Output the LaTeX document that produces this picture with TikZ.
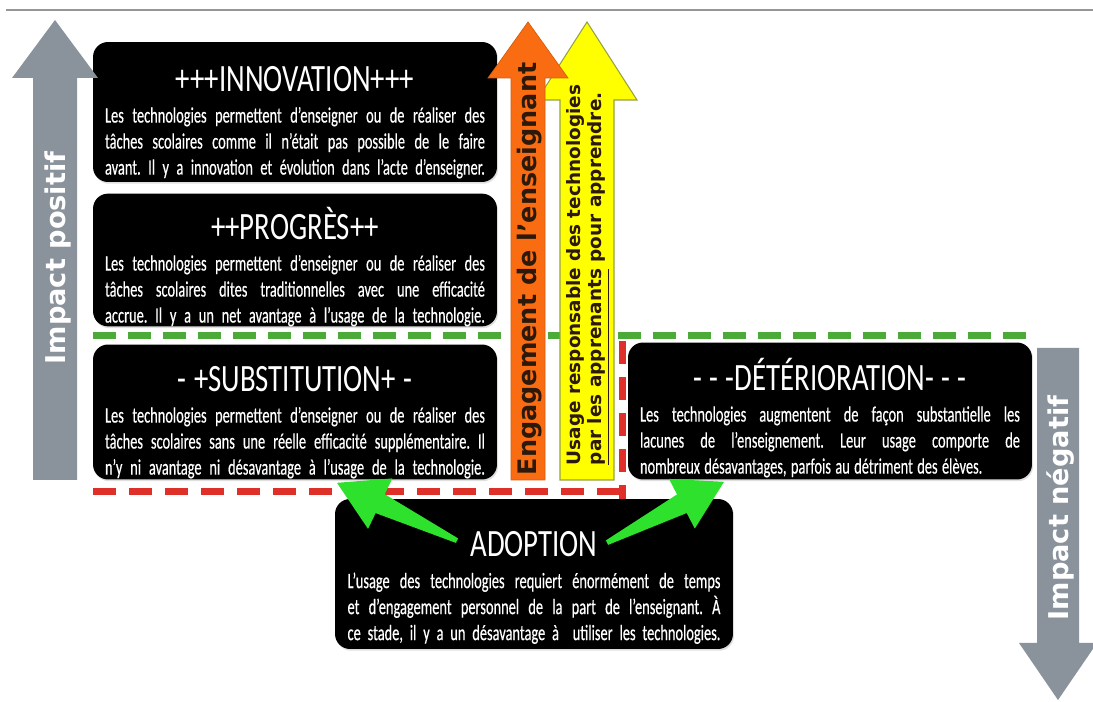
\documentclass[tikz,border=0pt]{standalone}
\usepackage{fontspec}
\usepackage{tikz}
\usetikzlibrary{calc,shadows}
\setmainfont{Carlito}
\newfontfamily\titre{Carlito}[FakeStretch=0.745]
\newfontfamily\corps{Carlito}[FakeStretch=0.655, FakeBold=0.4]
\newfontfamily\verdana{DejaVu Sans}
\frenchspacing

\definecolor{grisfleche}{RGB}{138,146,156}
\definecolor{gristrait}{RGB}{150,150,150}
\definecolor{orangefleche}{RGB}{250,108,18}
\definecolor{jaunefleche}{RGB}{255,255,0}
\definecolor{bordjaune}{RGB}{150,160,70}
\definecolor{textefonce}{RGB}{45,25,10}
\definecolor{vertpointille}{RGB}{76,170,56}
\definecolor{rougepointille}{RGB}{222,48,40}
\definecolor{vertvif}{RGB}{45,225,45}

\newlength{\hauttitre}
\setlength{\hauttitre}{26pt}
\newlength{\largeurligne}
\setlength{\largeurligne}{7.6cm}
\newcommand{\contenu}[5][s]{\rule{0pt}{\hauttitre}{\titre\fontsize{22}{24}\selectfont #2}\\[3pt]%
\spaceskip=0.2em plus 1em minus 0.05em\relax
\makebox[\largeurligne][s]{#3}\\\makebox[\largeurligne][s]{#4}\\\makebox[\largeurligne][#1]{#5}}
\newcommand{\grossefleche}[7][]{\filldraw[#1] ({#2-#3},#7) -- ({#2-#3},#6) -- ({#2-#4},#6) -- (#2,#5) -- ({#2+#4},#6) -- ({#2+#3},#6) -- ({#2+#3},#7) -- cycle;}
\newcommand{\flecheverte}[2]{\fill[vertvif] ($(#1)!0.05cm!90:(#2)$) -- ($(#1)!0.64!(#2)!0.21cm!90:(#2)$) -- ($(#1)!0.64!(#2)!0.56cm!90:(#2)$) -- (#2) -- ($(#1)!0.64!(#2)!0.56cm!-90:(#2)$) -- ($(#1)!0.64!(#2)!0.21cm!-90:(#2)$) -- ($(#1)!0.05cm!-90:(#2)$) -- cycle;}

\begin{document}
\begin{tikzpicture}[x=0.02cm, y=-0.02cm,
	carte/.style={fill=black, rounded corners=0.3cm, text=white, text width=7.6cm, align=center, inner xsep=0.24cm, inner ysep=0pt, minimum width=8.08cm, font=\corps\fontsize{12.5}{14.8}\selectfont, drop shadow={opacity=0.25, shadow xshift=0.6pt, shadow yshift=-1pt}},
	legende/.style={rotate=90, text=white, font=\verdana\bfseries\fontsize{15.5}{18}\selectfont},
	tirets vert/.style={draw=vertpointille, line width=0.14cm, dash pattern=on 0.46cm off 0.24cm},
	tirets rouge/.style={draw=rougepointille, line width=0.14cm, dash pattern=on 0.46cm off 0.26cm}]

\fill[white] (0,0) rectangle (1093,702);
\useasboundingbox (0,0) rectangle (1093,702);
\draw[gristrait, line width=1.2pt] (6,10) -- (1093,10);

\draw[tirets vert] (93,336) -- (1027,336);
\draw[tirets rouge] (93,492) -- (622,492);
\draw[tirets rouge] (622,341) -- (622,500);

\node[carte, minimum height=2.8cm] (innovation) at (295,112) {\contenu{+++INNOVATION+++}{Les technologies permettent d’enseigner ou de réaliser des}{tâches scolaires comme il n’était pas possible de le faire}{avant. Il y a innovation et évolution dans l’acte d’enseigner.}};
\node[carte, minimum height=2.6cm] (progres) at (295,260) {\contenu{++PROGRÈS++}{Les technologies permettent d’enseigner ou de réaliser des}{tâches scolaires dites traditionnelles avec une efficacité}{accrue. Il y a un net avantage à l’usage de la technologie.}};
\node[carte, minimum height=2.7cm] (substitution) at (295,412) {\contenu{- +SUBSTITUTION+ -}{Les technologies permettent d’enseigner ou de réaliser des}{tâches scolaires sans une réelle efficacité supplémentaire. Il}{n’y ni avantage ni désavantage à l’usage de la technologie.}};
\node[carte, minimum height=2.74cm] (deterioration) at (830,411) {\contenu[l]{- - -DÉTÉRIORATION- - -}{Les technologies augmentent de façon substantielle les}{lacunes de l’enseignement. Leur usage comporte de}{nombreux désavantages, parfois au détriment des élèves.}};
\node[carte, minimum height=3cm, minimum width=7.96cm, text width=7.46cm] (adoption) at (534,574) {\setlength{\hauttitre}{30pt}\setlength{\largeurligne}{7.46cm}\contenu{ADOPTION}{L’usage des technologies requiert énormément de temps}{et d’engagement personnel de la part de l’enseignant. À}{ce stade, il y a un désavantage à ~utiliser les technologies.}};

\grossefleche[fill=grisfleche, draw=none]{55}{22}{43}{20}{78}{480}
\grossefleche[fill=grisfleche, draw=none]{1058}{21}{39}{700}{643}{348}
\grossefleche[fill=jaunefleche, draw=bordjaune, line width=0.6pt]{587}{27}{50}{22}{100}{480}
\grossefleche[fill=orangefleche, draw=orangefleche!85!black, line width=0.4pt]{528}{17}{40}{22}{78}{480}

\node[legende] (positif) at (58,258) {Impact positif};
\node[legende] (negatif) at (1061,508) {Impact négatif};
\node[legende, text=textefonce, font=\verdana\bfseries\fontsize{14.5}{17}\selectfont] (engagement) at (530,269) {Engagement de l’enseignant};
\node[legende, text=textefonce, align=left, font=\verdana\bfseries\fontsize{10.5}{12}\selectfont] (usage) at (588,275) {Usage responsable des technologies\\\underline{par les apprenants} pour apprendre.};

\coordinate (departG) at ([xshift=-1.54cm, yshift=-0.84cm]adoption.north);
\coordinate (pointeG) at ([xshift=0.84cm, yshift=-0.06cm]substitution.south);
\coordinate (departD) at ([xshift=1.46cm, yshift=-0.88cm]adoption.north);
\coordinate (pointeD) at ([xshift=-2.12cm, yshift=-0.04cm]deterioration.south);
\flecheverte{departG}{pointeG}
\flecheverte{departD}{pointeD}

\end{tikzpicture}
\end{document}
